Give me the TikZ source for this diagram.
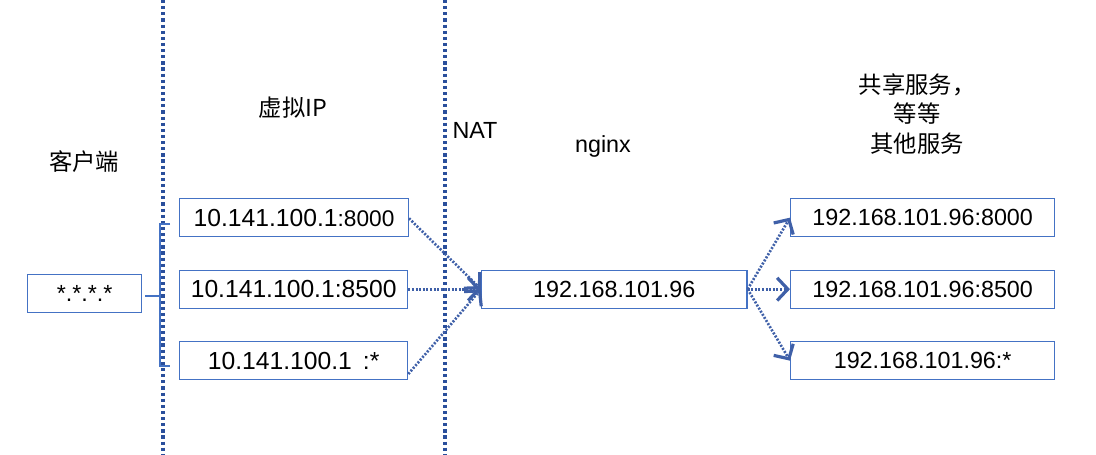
\documentclass[tikz,border=0pt]{standalone}
\usepackage{fontspec}
\setmainfont{Liberation Sans}
\newfontfamily\cjk{Noto Sans CJK SC}
\usetikzlibrary{arrows.meta}
\definecolor{boxc}{HTML}{4472C4}
\definecolor{sepc}{HTML}{2A4F9C}
\definecolor{arrc}{HTML}{3F60A8}
\tikzset{
  ipbox/.style={draw=boxc, line width=1pt, minimum height=28.5pt, inner sep=0pt, font=\fontsize{17.5}{20}\selectfont, anchor=north west},
  vbox/.style={ipbox, font=\fontsize{18.5}{20}\selectfont},
  label/.style={font=\cjk\fontsize{17.5}{22}\selectfont, align=center},
  sep/.style={draw=sepc, line width=2.5pt, dash pattern=on 2.4pt off 2.2pt},
  flow/.style={draw=arrc, line width=2pt, dash pattern=on 1.5pt off 1.2pt, -{Straight Barb[length=8pt,width=17pt,line width=2.4pt]}},
  brace/.style={draw=boxc, line width=1pt}
}
\begin{document}
\begin{tikzpicture}[x=0.75pt,y=-0.75pt]
\useasboundingbox (0,0) rectangle (1096,454);
% separators
\coordinate (s1t) at (163,0); \coordinate (s1b) at (163,454);
\coordinate (s2t) at (445,0); \coordinate (s2b) at (445,454);
\draw[sep] (s1t) -- (s1b);
\draw[sep] (s2t) -- (s2b);
% labels
\node[label] (lclient) at (84,162) {客户端};
\node[label] (lvip) at (293,108) {虚拟IP};
\node[label, font=\fontsize{17.5}{22}\selectfont] (lnat) at (475,130) {NAT};
\node[label, font=\fontsize{17.5}{22}\selectfont] (lnginx) at (603,146) {nginx};
\node[label] (lsvc) at (917,114) {共享服务，\\等等\\其他服务};
% client
\node[ipbox, minimum width=85.5pt] (client) at (27,274) {*.*.*.*};
% virtual ip boxes
\node[vbox, minimum width=171.5pt] (v1) at (179,198) {10.141.100.1\fontsize{17}{20}\selectfont:8000};
\node[vbox, minimum width=171pt] (v2) at (179,269.5) {10.141.100.1:8500};
\node[vbox, minimum width=171pt] (v3) at (179,341) {10.141.100.1 \,:*};
% nginx
\node[ipbox, minimum width=199pt] (ng) at (481,269.5) {192.168.101.96};
% services
\node[ipbox, minimum width=198pt] (r1) at (790,198) {192.168.101.96:8000};
\node[ipbox, minimum width=198pt] (r2) at (790,269.5) {192.168.101.96:8500};
\node[ipbox, minimum width=198pt] (r3) at (790,341) {192.168.101.96:*};
% brace
\coordinate (bt) at (170,224);
\coordinate (bb) at (170,366);
\coordinate (bm) at (145,296);
\draw[brace] (bt) -- (160,224) -- (160,366) -- (bb);
\draw[brace] (bm) -- (160,296);
% flows
\draw[flow] ([yshift=-0.5pt]v1.east) -- (ng.west);
\draw[flow] (v2.east) -- (ng.west);
\draw[flow] ([yshift=-10pt]v3.east) -- (ng.west);
\draw[flow] (ng.east) -- (r1.west);
\draw[flow] (ng.east) -- (r2.west);
\draw[flow] (ng.east) -- (r3.west);
\end{tikzpicture}
\end{document}
